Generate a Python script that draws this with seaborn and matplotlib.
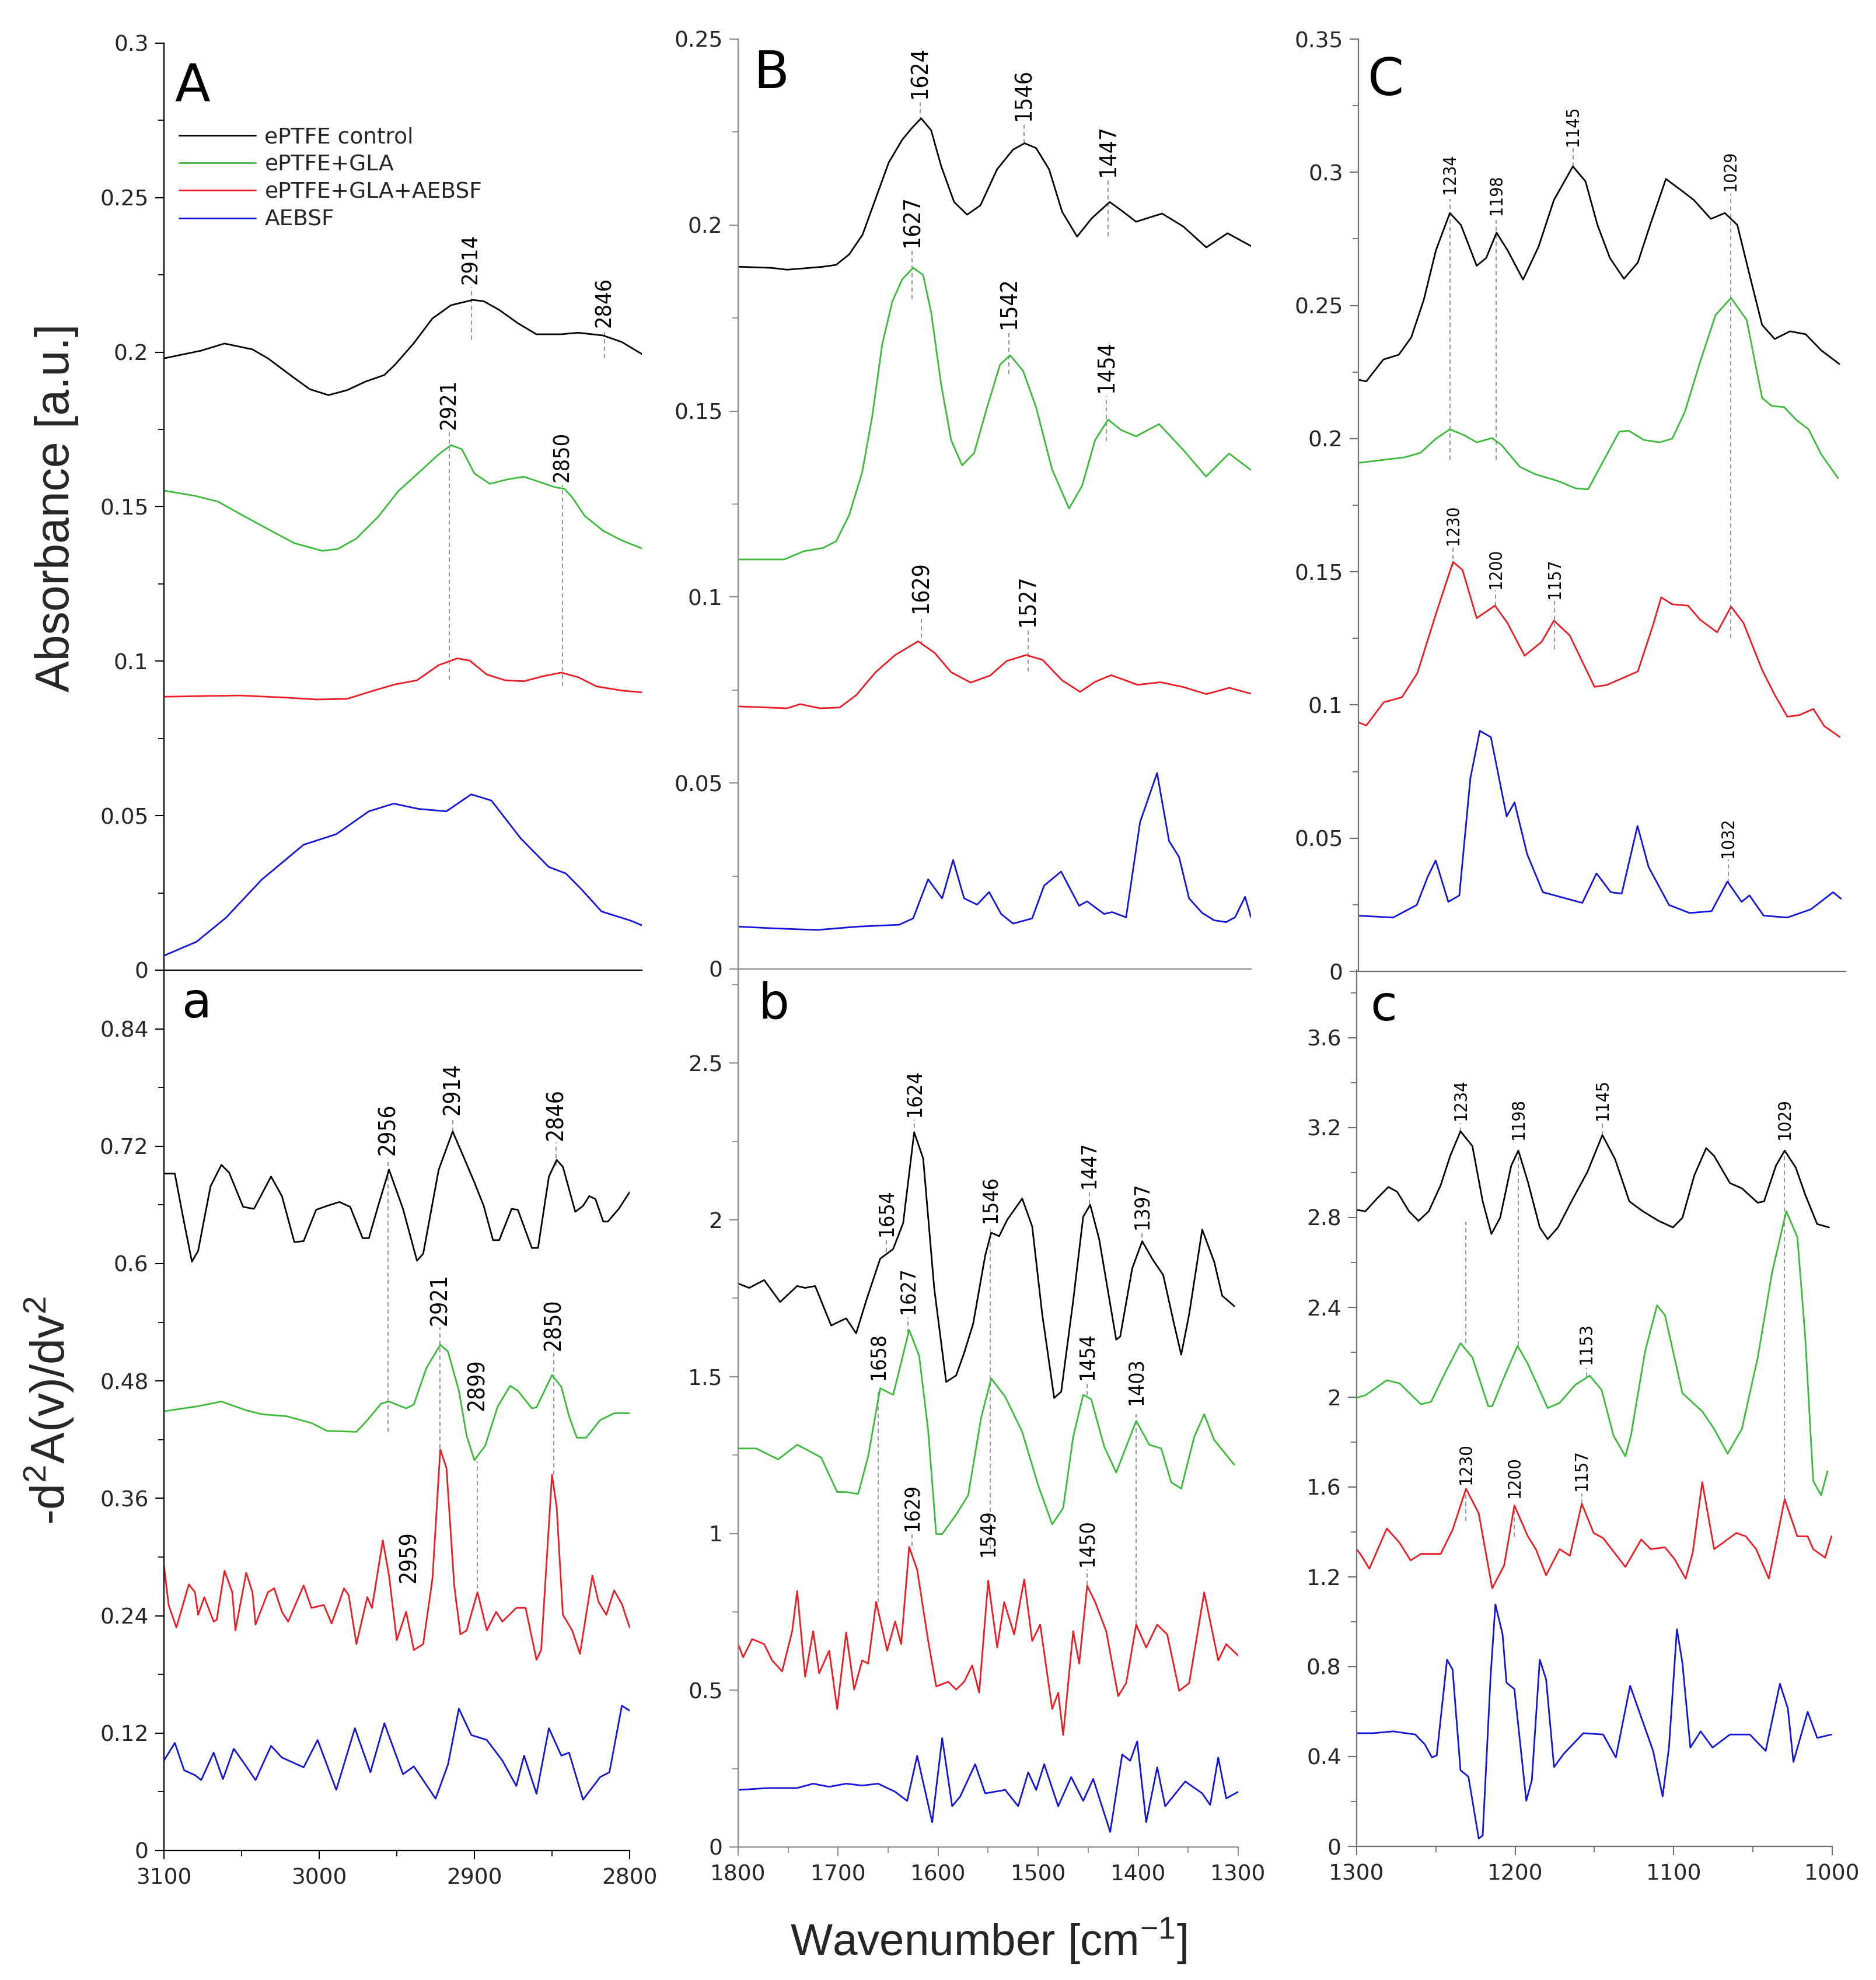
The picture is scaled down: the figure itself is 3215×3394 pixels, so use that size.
import pandas as pd
import numpy as np
import matplotlib
matplotlib.use('Agg')
import matplotlib.pyplot as plt
import seaborn as sns
from matplotlib import font_manager
from matplotlib.ticker import MultipleLocator, FuncFormatter

sns.set_theme(style='ticks')
plt.rcParams['font.family'] = ['DejaVu Sans']

# ---- sample names / colours
samples = ['ePTFE control', 'ePTFE+GLA', 'ePTFE+GLA+AEBSF', 'AEBSF']
colors = {'ePTFE control': '#000000', 'ePTFE+GLA': '#3cba3c',
          'ePTFE+GLA+AEBSF': '#ec1c24', 'AEBSF': '#1414d8'}

# ---- panel A: absorbance 3100-2800
A_ctrl_x = [3100, 3076, 3061, 3043, 3033, 3017, 3006, 2994, 2982, 2970, 2958, 2951, 2939, 2927, 2915, 2901, 2894, 2884, 2872, 2860, 2844, 2833, 2817, 2805, 2792]
A_ctrl_y = [0.198, 0.2005, 0.2028, 0.2009, 0.198, 0.192, 0.188, 0.1861, 0.1877, 0.1905, 0.1926, 0.196, 0.2029, 0.2109, 0.2152, 0.2169, 0.2165, 0.2137, 0.2094, 0.2058, 0.2058, 0.2063, 0.2054, 0.2033, 0.1994]
A_gla_x = [3100, 3080, 3065, 3049, 3031, 3016, 2998, 2988, 2976, 2962, 2949, 2935, 2923, 2915, 2908, 2900, 2890, 2878, 2868, 2858, 2848, 2842, 2837, 2829, 2817, 2805, 2792]
A_gla_y = [0.1552, 0.1535, 0.1516, 0.1471, 0.1422, 0.1382, 0.1357, 0.1363, 0.1397, 0.1467, 0.155, 0.1614, 0.1669, 0.1699, 0.1686, 0.1608, 0.1574, 0.1589, 0.1597, 0.158, 0.1563, 0.1558, 0.1531, 0.1471, 0.1422, 0.1391, 0.1365]
A_red_x = [3100, 3051, 3021, 3002, 2982, 2966, 2951, 2937, 2923, 2911, 2903, 2892, 2880, 2868, 2856, 2844, 2833, 2821, 2805, 2792]
A_red_y = [0.0885, 0.0889, 0.0882, 0.0876, 0.0878, 0.0903, 0.0925, 0.0938, 0.0987, 0.1009, 0.1002, 0.0957, 0.0938, 0.0935, 0.0951, 0.0963, 0.0948, 0.0918, 0.0905, 0.0899]
A_blue_x = [3100, 3079, 3060, 3037, 3010, 2989, 2968, 2952, 2936, 2918, 2902, 2889, 2870, 2852, 2841, 2831, 2818, 2799, 2792]
A_blue_y = [0.0047, 0.0092, 0.017, 0.0293, 0.0406, 0.044, 0.0514, 0.0539, 0.0522, 0.0514, 0.0569, 0.0549, 0.0426, 0.0334, 0.0313, 0.0262, 0.019, 0.016, 0.0145]

# ---- panel B: absorbance 1800-1300
B_ctrl_x = [1800, 1767, 1751, 1715, 1702, 1689, 1675.6, 1662.5, 1649.4, 1636, 1626.5, 1617, 1607, 1597, 1584, 1571, 1557.7, 1541, 1525, 1513.5, 1502, 1489, 1476, 1461, 1446.4, 1428.4, 1417, 1402, 1376, 1354.7, 1331.8, 1310.5, 1286.6]
B_ctrl_y = [0.1888, 0.1885, 0.188, 0.1888, 0.1893, 0.1921, 0.1974, 0.2071, 0.2168, 0.2229, 0.226, 0.2287, 0.2255, 0.2159, 0.2062, 0.2028, 0.2053, 0.215, 0.2203, 0.222, 0.2207, 0.215, 0.2036, 0.1969, 0.2018, 0.2062, 0.204, 0.2009, 0.2031, 0.1996, 0.194, 0.1978, 0.1943]
B_gla_x = [1800, 1754, 1734.5, 1715, 1702, 1689, 1676, 1666, 1656, 1646, 1636, 1625, 1615, 1607, 1597, 1587, 1576, 1564, 1551, 1538, 1528, 1515, 1502, 1486, 1469, 1456, 1443, 1430, 1417, 1402, 1379, 1355, 1332, 1309, 1287]
B_gla_y = [0.1101, 0.1101, 0.1123, 0.1132, 0.115, 0.122, 0.1335, 0.1484, 0.1678, 0.1793, 0.1854, 0.1885, 0.1866, 0.1766, 0.1572, 0.1422, 0.1354, 0.1387, 0.151, 0.1625, 0.165, 0.1608, 0.151, 0.1343, 0.1238, 0.1299, 0.1422, 0.1477, 0.1449, 0.1432, 0.1465, 0.1396, 0.1324, 0.1386, 0.1341]
B_red_x = [1800, 1751, 1738, 1718, 1698.5, 1682, 1662.5, 1643, 1620, 1603.5, 1587, 1567.5, 1548, 1531.5, 1512, 1495.5, 1476, 1458, 1443, 1427, 1400.5, 1377.6, 1354.7, 1331.8, 1308.8, 1287]
B_red_y = [0.0706, 0.0701, 0.0712, 0.0701, 0.0703, 0.0736, 0.0798, 0.0844, 0.0881, 0.085, 0.0798, 0.077, 0.0789, 0.0828, 0.0844, 0.0831, 0.0776, 0.0745, 0.0772, 0.079, 0.0764, 0.0771, 0.0758, 0.0739, 0.0756, 0.074]
B_blue_x = [1800, 1762, 1721, 1680, 1639, 1625, 1610, 1596, 1585, 1574, 1561, 1549, 1537, 1525, 1506, 1494, 1477, 1459, 1451, 1434, 1426, 1412, 1398, 1381, 1369, 1359, 1349, 1336, 1324, 1312, 1303, 1293, 1287]
B_blue_y = [0.0114, 0.0109, 0.0105, 0.0114, 0.0119, 0.0136, 0.0241, 0.0190, 0.0293, 0.0190, 0.0173, 0.0207, 0.0148, 0.0122, 0.0136, 0.0224, 0.0262, 0.0170, 0.0182, 0.0148, 0.0153, 0.0139, 0.0395, 0.0527, 0.0344, 0.0301, 0.0190, 0.0151, 0.0131, 0.0126, 0.0139, 0.0194, 0.0139]

# ---- panel C: absorbance 1300-1000
C_ctrl_x = [1300, 1295, 1284.2, 1274.4, 1266.5, 1258.6, 1250.8, 1242, 1235, 1225, 1219, 1212.4, 1205.5, 1195.6, 1185.8, 1176, 1164, 1156, 1148.4, 1140.5, 1131.6, 1122.8, 1115, 1105, 1095, 1087.3, 1076.5, 1067.6, 1059.7, 1051.9, 1044, 1036, 1026.3, 1016.4, 1006.6, 995]
C_ctrl_y = [0.2221, 0.2215, 0.2297, 0.2315, 0.238, 0.252, 0.2708, 0.2847, 0.2802, 0.2649, 0.2678, 0.2773, 0.2708, 0.2597, 0.272, 0.2896, 0.3022, 0.2966, 0.2802, 0.2678, 0.26, 0.2661, 0.2802, 0.2975, 0.2931, 0.2896, 0.2825, 0.2847, 0.2802, 0.2614, 0.2427, 0.2374, 0.2403, 0.2392, 0.2332, 0.228]
C_gla_x = [1300, 1270.5, 1260.6, 1250.8, 1242, 1233, 1225, 1215.3, 1209.4, 1197.6, 1187.8, 1174, 1162, 1154.3, 1144.4, 1134.6, 1128.7, 1119, 1109, 1101, 1093, 1083.3, 1073.5, 1063.7, 1053.8, 1044, 1038, 1030, 1022.3, 1014.5, 1006.6, 995.8]
C_gla_y = [0.1909, 0.193, 0.1947, 0.2, 0.2035, 0.2013, 0.1986, 0.2002, 0.1977, 0.1894, 0.1866, 0.1842, 0.1813, 0.181, 0.1919, 0.2026, 0.203, 0.1995, 0.1986, 0.2, 0.21, 0.2288, 0.2464, 0.2528, 0.2446, 0.2153, 0.2123, 0.2118, 0.207, 0.2035, 0.1942, 0.1851]
C_red_x = [1300, 1295, 1284, 1272.4, 1262.6, 1250.8, 1240, 1234, 1225, 1213.4, 1205.5, 1194.6, 1183.8, 1176, 1166, 1150.3, 1142.5, 1122.8, 1113, 1108, 1101, 1091, 1083.3, 1072.5, 1063.7, 1055.8, 1044, 1036, 1028, 1020.4, 1011.5, 1004.6, 994.8]
C_red_y = [0.0935, 0.0923, 0.101, 0.1029, 0.112, 0.1343, 0.1537, 0.1507, 0.1326, 0.1373, 0.1308, 0.1185, 0.1237, 0.1317, 0.1261, 0.1068, 0.1075, 0.1126, 0.1303, 0.1404, 0.1378, 0.1373, 0.132, 0.1273, 0.1369, 0.1308, 0.1132, 0.1038, 0.0956, 0.0962, 0.0985, 0.0921, 0.088]
C_blue_x = [1300, 1278, 1263, 1256, 1251, 1243, 1236, 1229, 1223, 1216, 1206, 1201, 1193, 1183, 1158, 1149, 1140, 1133, 1123, 1116, 1103, 1090, 1076, 1066, 1057, 1052, 1043, 1028, 1013, 999, 994]
C_blue_y = [0.0209, 0.0202, 0.0249, 0.0356, 0.0416, 0.0261, 0.0285, 0.0725, 0.0903, 0.0879, 0.0582, 0.0634, 0.044, 0.0297, 0.0257, 0.0368, 0.0297, 0.0292, 0.0546, 0.0392, 0.0249, 0.0219, 0.0226, 0.0337, 0.0261, 0.0285, 0.0209, 0.0202, 0.0233, 0.0297, 0.0273]

# ---- panel a: second derivative 3100-2800
a_ctrl_x = [3100, 3093, 3088, 3082, 3078, 3070, 3063, 3058, 3049, 3042, 3031, 3024, 3016, 3010, 3002, 2995, 2987, 2980, 2972, 2968, 2962, 2955, 2946, 2937, 2933, 2923, 2914, 2908, 2900, 2894, 2888, 2884, 2876, 2872, 2863, 2859, 2852, 2847, 2843, 2835, 2830, 2826, 2822, 2817, 2814, 2807, 2800]
a_ctrl_y = [0.692, 0.692, 0.650, 0.602, 0.613, 0.679, 0.701, 0.693, 0.658, 0.656, 0.689, 0.669, 0.622, 0.623, 0.655, 0.659, 0.663, 0.658, 0.626, 0.626, 0.659, 0.696, 0.656, 0.603, 0.610, 0.696, 0.735, 0.713, 0.683, 0.659, 0.624, 0.624, 0.656, 0.655, 0.616, 0.616, 0.689, 0.706, 0.699, 0.653, 0.659, 0.669, 0.666, 0.643, 0.643, 0.656, 0.673]
a_gla_x = [3100, 3079, 3063, 3047, 3037, 3021, 3005, 2995, 2976, 2969, 2960, 2955, 2944, 2939, 2931, 2922, 2917, 2910, 2905, 2900, 2893, 2885, 2877, 2872, 2863, 2860, 2850, 2844, 2839, 2834, 2828, 2819, 2810, 2800]
a_gla_y = [0.449, 0.454, 0.459, 0.450, 0.446, 0.444, 0.437, 0.429, 0.428, 0.440, 0.457, 0.459, 0.452, 0.456, 0.493, 0.517, 0.510, 0.470, 0.424, 0.399, 0.414, 0.454, 0.475, 0.470, 0.452, 0.453, 0.486, 0.474, 0.444, 0.422, 0.422, 0.440, 0.447, 0.447]
a_red_x = [3100, 3097, 3092, 3084, 3080, 3078, 3074, 3068, 3066, 3061, 3056, 3054, 3047, 3043, 3041, 3033, 3029, 3024, 3020, 3010, 3005, 2997, 2992, 2984, 2981, 2976, 2969, 2966, 2959, 2955, 2950, 2944, 2939, 2933, 2927, 2922, 2918, 2913, 2909, 2905, 2898, 2892, 2886, 2882, 2873, 2867, 2860, 2857, 2850, 2847, 2843, 2837, 2832, 2824, 2820, 2815, 2810, 2805, 2800]
a_red_y = [0.291, 0.251, 0.228, 0.272, 0.264, 0.241, 0.259, 0.234, 0.236, 0.286, 0.264, 0.225, 0.284, 0.264, 0.231, 0.264, 0.268, 0.244, 0.234, 0.271, 0.248, 0.251, 0.232, 0.268, 0.261, 0.211, 0.259, 0.248, 0.317, 0.281, 0.215, 0.244, 0.205, 0.211, 0.278, 0.410, 0.391, 0.271, 0.221, 0.225, 0.264, 0.225, 0.244, 0.234, 0.248, 0.248, 0.195, 0.205, 0.384, 0.351, 0.241, 0.225, 0.201, 0.281, 0.254, 0.241, 0.266, 0.252, 0.228]
a_blue_x = [3100, 3093, 3087, 3080, 3076, 3068, 3062, 3055, 3047, 3041, 3031, 3024, 3010, 3001, 2989, 2977, 2967, 2958, 2946, 2939, 2925, 2917, 2910, 2902, 2892, 2882, 2873, 2868, 2860, 2852, 2844, 2839, 2830, 2819, 2813, 2805, 2800]
a_blue_y = [0.092, 0.110, 0.082, 0.077, 0.072, 0.100, 0.073, 0.104, 0.086, 0.072, 0.107, 0.095, 0.085, 0.113, 0.062, 0.125, 0.080, 0.130, 0.078, 0.086, 0.053, 0.088, 0.145, 0.118, 0.113, 0.092, 0.066, 0.097, 0.058, 0.125, 0.097, 0.100, 0.052, 0.075, 0.080, 0.148, 0.143]

# ---- panel b: second derivative 1800-1300
b_ctrl_x = [1800, 1789, 1774, 1758, 1741, 1733, 1723, 1707, 1696, 1692, 1682, 1672, 1658, 1645, 1635, 1624, 1615, 1604, 1592, 1582, 1574, 1565, 1553, 1547, 1539, 1531, 1516, 1506, 1496, 1484, 1477, 1465, 1455, 1448, 1439, 1422, 1418, 1406, 1396, 1386, 1375, 1365, 1357, 1349, 1336, 1324, 1316, 1304]
b_ctrl_y = [1.797, 1.783, 1.808, 1.738, 1.789, 1.783, 1.789, 1.663, 1.680, 1.686, 1.638, 1.742, 1.876, 1.907, 1.990, 2.279, 2.196, 1.783, 1.483, 1.504, 1.576, 1.669, 1.886, 1.959, 1.948, 2.000, 2.068, 1.979, 1.700, 1.432, 1.452, 1.742, 2.010, 2.048, 1.938, 1.618, 1.628, 1.845, 1.932, 1.876, 1.824, 1.680, 1.570, 1.700, 1.969, 1.866, 1.758, 1.725]
b_gla_x = [1800, 1782, 1760, 1741, 1725, 1717, 1701, 1692, 1680, 1670, 1658, 1645, 1629, 1619, 1610, 1602, 1596, 1582, 1570, 1557, 1547, 1533, 1516, 1500, 1486, 1475, 1465, 1455, 1447, 1434, 1422, 1412, 1402, 1389, 1377, 1367, 1357, 1344, 1334, 1324, 1304]
b_gla_y = [1.271, 1.271, 1.236, 1.283, 1.256, 1.242, 1.132, 1.132, 1.126, 1.246, 1.463, 1.442, 1.649, 1.566, 1.328, 0.998, 0.998, 1.060, 1.122, 1.370, 1.494, 1.436, 1.324, 1.153, 1.029, 1.081, 1.308, 1.442, 1.428, 1.277, 1.194, 1.277, 1.359, 1.283, 1.271, 1.163, 1.143, 1.308, 1.380, 1.298, 1.219]
b_red_x = [1800, 1795, 1786, 1774, 1766, 1756, 1746, 1741, 1733, 1725, 1719, 1709, 1701, 1692, 1684, 1676, 1670, 1662, 1651, 1643, 1637, 1629, 1621, 1610, 1602, 1590, 1582, 1574, 1566, 1559, 1550, 1541, 1534, 1524, 1514, 1506, 1498, 1486, 1480, 1475, 1465, 1459, 1451, 1443, 1432, 1420, 1412, 1402, 1392, 1381, 1371, 1359, 1349, 1334, 1320, 1312, 1300]
b_red_y = [0.647, 0.605, 0.663, 0.647, 0.595, 0.560, 0.688, 0.816, 0.543, 0.688, 0.554, 0.626, 0.440, 0.684, 0.502, 0.595, 0.585, 0.781, 0.626, 0.719, 0.647, 0.957, 0.884, 0.657, 0.512, 0.527, 0.502, 0.527, 0.579, 0.492, 0.849, 0.636, 0.781, 0.678, 0.853, 0.657, 0.709, 0.440, 0.492, 0.357, 0.688, 0.585, 0.833, 0.781, 0.688, 0.481, 0.523, 0.709, 0.636, 0.709, 0.678, 0.498, 0.523, 0.812, 0.595, 0.647, 0.610]
b_blue_x = [1800, 1770, 1741, 1725, 1709, 1692, 1676, 1660, 1643, 1631, 1621, 1606, 1596, 1586, 1578, 1563, 1553, 1533, 1520, 1510, 1502, 1494, 1480, 1467, 1455, 1445, 1428, 1416, 1408, 1401, 1392, 1381, 1373, 1353, 1336, 1328, 1320, 1312, 1300]
b_blue_y = [0.182, 0.188, 0.188, 0.202, 0.192, 0.202, 0.196, 0.202, 0.176, 0.147, 0.291, 0.079, 0.347, 0.130, 0.161, 0.264, 0.171, 0.182, 0.130, 0.238, 0.182, 0.264, 0.130, 0.223, 0.147, 0.217, 0.048, 0.295, 0.275, 0.337, 0.079, 0.254, 0.130, 0.209, 0.171, 0.134, 0.285, 0.155, 0.176]

# ---- panel c: second derivative 1300-1000
c_ctrl_x = [1300, 1294.5, 1287, 1280, 1274.5, 1267, 1261, 1254.5, 1247, 1241, 1234.5, 1227, 1220.5, 1215, 1209.5, 1202.5, 1198, 1192, 1184.5, 1179.5, 1173, 1164.5, 1154.5, 1145, 1137, 1128, 1119.5, 1109.5, 1100.5, 1094.5, 1087, 1079.5, 1074.5, 1064.5, 1057, 1047, 1043, 1035.5, 1030, 1023, 1017, 1009.5, 1002]
c_ctrl_y = [2.833, 2.827, 2.885, 2.935, 2.914, 2.827, 2.784, 2.827, 2.943, 3.073, 3.183, 3.117, 2.871, 2.726, 2.798, 3.030, 3.097, 2.958, 2.755, 2.703, 2.755, 2.871, 3.001, 3.166, 3.059, 2.871, 2.827, 2.784, 2.755, 2.798, 2.987, 3.108, 3.073, 2.952, 2.929, 2.865, 2.871, 3.030, 3.097, 3.021, 2.900, 2.770, 2.755]
c_gla_x = [1300, 1294.5, 1281, 1273, 1259.5, 1253, 1244.5, 1234.5, 1227, 1217, 1214.5, 1207, 1198.5, 1192, 1179.5, 1172, 1162, 1153, 1145.5, 1138, 1130.5, 1127, 1118, 1110.5, 1105.5, 1094.5, 1082, 1074.5, 1066, 1057, 1047, 1038, 1029, 1022, 1017, 1012, 1007, 1003]
c_gla_y = [1.997, 2.008, 2.075, 2.061, 1.968, 1.979, 2.104, 2.240, 2.176, 1.959, 1.959, 2.089, 2.228, 2.147, 1.951, 1.974, 2.055, 2.095, 2.032, 1.829, 1.736, 1.829, 2.205, 2.408, 2.364, 2.017, 1.936, 1.858, 1.748, 1.858, 2.176, 2.553, 2.827, 2.712, 2.263, 1.626, 1.563, 1.670]
c_red_x = [1300, 1297, 1292, 1281, 1273, 1266, 1259.5, 1247, 1239.5, 1231, 1223, 1214.5, 1207, 1200.5, 1192, 1187, 1180.5, 1172, 1165.5, 1158, 1150.5, 1144.5, 1130.5, 1120.5, 1114.5, 1105.5, 1099.5, 1092.5, 1088, 1082, 1074.5, 1060.5, 1054.5, 1048, 1040, 1030, 1022, 1015.5, 1012, 1004.5, 1000.5]
c_red_y = [1.323, 1.294, 1.236, 1.415, 1.352, 1.273, 1.302, 1.302, 1.409, 1.592, 1.482, 1.149, 1.250, 1.517, 1.380, 1.323, 1.207, 1.323, 1.294, 1.525, 1.395, 1.372, 1.244, 1.366, 1.323, 1.331, 1.279, 1.192, 1.308, 1.621, 1.323, 1.395, 1.380, 1.323, 1.192, 1.545, 1.380, 1.380, 1.323, 1.285, 1.380]
c_blue_x = [1300, 1289.5, 1277, 1263, 1257, 1252.5, 1249.5, 1243, 1239.5, 1234.5, 1229.5, 1223, 1220.5, 1215.5, 1212.5, 1208, 1205.5, 1200.5, 1193, 1189.5, 1184.5, 1180.5, 1175.5, 1169.5, 1157, 1144.5, 1136.5, 1127.5, 1121, 1113, 1107, 1103, 1098, 1094.5, 1089.5, 1083, 1075.5, 1064.5, 1052, 1042, 1033, 1028, 1024.5, 1015.5, 1009.5, 1000.5]
c_blue_y = [0.504, 0.504, 0.512, 0.498, 0.454, 0.396, 0.405, 0.831, 0.787, 0.339, 0.310, 0.035, 0.049, 0.758, 1.077, 0.946, 0.729, 0.700, 0.203, 0.295, 0.831, 0.744, 0.353, 0.411, 0.504, 0.498, 0.396, 0.715, 0.585, 0.425, 0.223, 0.440, 0.967, 0.816, 0.440, 0.512, 0.440, 0.498, 0.498, 0.425, 0.724, 0.614, 0.376, 0.599, 0.483, 0.498]

# ---- peak marks: (label, x, dash from, dash to, label y)
A_marks = [('2914', 2902, 0.204, 0.221, 0.222), ('2846', 2816, 0.198, 0.207, 0.208),
           ('2921', 2916, 0.094, 0.174, 0.175), ('2850', 2843, 0.092, 0.157, 0.158)]
B_marks = [('1624', 1618, 0.228, 0.233, 0.234), ('1546', 1514, 0.222, 0.227, 0.228),
           ('1447', 1430, 0.197, 0.212, 0.213), ('1627', 1626, 0.180, 0.193, 0.194),
           ('1542', 1529, 0.160, 0.171, 0.172), ('1454', 1432, 0.142, 0.154, 0.155),
           ('1629', 1617, 0.087, 0.095, 0.0956), ('1527', 1510, 0.080, 0.091, 0.092)]
C_marks = [('1234', 1242, 0.192, 0.290, 0.292), ('1198', 1212.5, 0.192, 0.282, 0.284),
           ('1145', 1164, 0.302, 0.309, 0.310), ('1029', 1064, 0.125, 0.292, 0.293),
           ('1230', 1240, 0.152, 0.159, 0.160), ('1200', 1213, 0.137, 0.143, 0.1437),
           ('1157', 1175.5, 0.121, 0.139, 0.140), ('1032', 1065.5, 0.033, 0.042, 0.0428)]
a_marks = [('2956', 2955.5, 0.428, 0.708, 0.711), ('2914', 2914, 0.735, 0.750, 0.752),
           ('2846', 2847.5, 0.700, 0.724, 0.726), ('2921', 2922, 0.404, 0.535, 0.537),
           ('2899', 2898, 0.268, 0.398, 0.450), ('2850', 2849, 0.384, 0.510, 0.511),
           ('2959', 2942, None, None, 0.274)]
b_marks = [('1624', 1624, 2.27, 2.32, 2.33), ('1654', 1652, 1.897, 1.94, 1.948),
           ('1546', 1548, 0.95, 1.97, 1.99), ('1447', 1449, 2.05, 2.09, 2.10),
           ('1397', 1396, 1.92, 1.96, 1.97), ('1658', 1660, 0.78, 1.46, 1.49),
           ('1627', 1630, 1.64, 1.69, 1.70), ('1454', 1451, 1.44, 1.48, 1.49),
           ('1403', 1402, 0.71, 1.38, 1.41), ('1629', 1626, 0.96, 1.0, 1.008),
           ('1549', 1550, None, None, 0.926), ('1450', 1451, 0.835, 0.885, 0.895)]
c_marks = [('1234', 1234.5, 3.18, 3.22, 3.233), ('1198', 1198, 2.23, 3.10, 3.146),
           ('1145', 1145, 3.166, 3.22, 3.233), ('1029', 1030, 1.545, 3.10, 3.146),
           ('1153', 1155, 2.09, 2.13, 2.147), ('1230', 1231, 1.45, 1.59, 1.612),
           ('1200', 1200.5, 1.38, 1.52, 1.554), ('1157', 1158, 1.525, 1.57, 1.583),
           ('', 1231, 2.24, 2.78, None)]

# narrow font for the peak labels
installed = {f.name for f in font_manager.fontManager.ttflist}
if 'Liberation Sans Narrow' in installed:
    peak_font = {'family': 'Liberation Sans Narrow'}
    peak_scale = 1.0
else:
    fp = font_manager.findfont(font_manager.FontProperties(family='DejaVu Sans', stretch='condensed'))
    if 'Condensed' in fp:
        peak_font = {'family': 'DejaVu Sans', 'stretch': 'condensed'}
        peak_scale = 0.456 / 0.572
    else:
        peak_font = {'family': 'DejaVu Sans'}
        peak_scale = 0.456 / 0.636

W, H = 3216, 3394
fig = plt.figure(figsize=(W / 100, H / 100), dpi=100)


def make_ax(left, top, right, bottom):
    return fig.add_axes([left / W, 1 - bottom / H, (right - left) / W, (bottom - top) / H])


def draw(ax, curves, marks, size):
    frames = []
    for name, xs, ys in curves:
        frames.append(pd.DataFrame({'wn': xs, 'val': ys, 'sample': name}))
    df = pd.concat(frames, ignore_index=True)
    sns.lineplot(data=df, x='wn', y='val', hue='sample', hue_order=samples, palette=colors,
                 estimator=None, sort=False, lw=2.0, legend=False, ax=ax)
    for line in ax.get_lines():
        line.set_solid_joinstyle('round')
    for txt, x, y0, y1, ylab in marks:
        if y0 is not None:
            ax.plot([x, x], [y0, y1], color='#8a8a8a', lw=1.3, ls=(0, (4, 3)), zorder=1)
        if txt and ylab is not None:
            ax.text(x, ylab, txt, rotation=90, ha='center', va='bottom',
                    fontsize=size * peak_scale, color='black', **peak_font)


def style(ax, xlim, ylim, ymaj, ymin, top, spine_col, letter, lx, ly, lsize):
    ax.set_xlim(*xlim)
    ax.set_ylim(*ylim)
    ax.set_xlabel('')
    ax.set_ylabel('')
    sns.despine(ax=ax)
    for s in ['left', 'bottom']:
        ax.spines[s].set_color(spine_col)
        ax.spines[s].set_linewidth(1.6)
    ax.yaxis.set_major_locator(MultipleLocator(ymaj))
    ax.yaxis.set_minor_locator(MultipleLocator(ymin))
    ax.yaxis.set_major_formatter(FuncFormatter(lambda v, p: f'{v:g}'))
    ax.tick_params(axis='y', which='major', direction='out', length=11, width=1.5,
                   color=spine_col, labelsize=27, pad=8)
    ax.tick_params(axis='y', which='minor', direction='out', length=7, width=1.3, color=spine_col)
    if top:
        ax.tick_params(axis='x', which='both', bottom=False, labelbottom=False)
    else:
        ax.xaxis.set_major_locator(MultipleLocator(100))
        ax.xaxis.set_minor_locator(MultipleLocator(50))
        ax.xaxis.set_major_formatter(FuncFormatter(lambda v, p: f'{v:g}'))
        ax.tick_params(axis='x', which='major', direction='out', length=11, width=1.5,
                       color=spine_col, labelsize=27, pad=10)
        ax.tick_params(axis='x', which='minor', direction='out', length=7, width=1.3, color=spine_col)
    ax.patch.set_alpha(0)
    ax.text(lx, ly, letter, transform=ax.transAxes, ha='left', va='baseline',
            fontsize=lsize, color='black')


# top row
axA = make_ax(281, 74, 1100, 1663)
draw(axA, [(samples[0], A_ctrl_x, A_ctrl_y), (samples[1], A_gla_x, A_gla_y),
           (samples[2], A_red_x, A_red_y), (samples[3], A_blue_x, A_blue_y)], A_marks, 34)
style(axA, (3100, 2792), (0, 0.3), 0.05, 0.025, True, '#000000', 'A', 0.022, 0.937, 64)

axB = make_ax(1265, 67, 2144, 1661)
draw(axB, [(samples[0], B_ctrl_x, B_ctrl_y), (samples[1], B_gla_x, B_gla_y),
           (samples[2], B_red_x, B_red_y), (samples[3], B_blue_x, B_blue_y)], B_marks, 35)
style(axB, (1800, 1287), (0, 0.25), 0.05, 0.025, True, '#8c8c8c', 'B', 0.030, 0.947, 64)

axC = make_ax(2328, 67, 3163, 1665)
draw(axC, [(samples[0], C_ctrl_x, C_ctrl_y), (samples[1], C_gla_x, C_gla_y),
           (samples[2], C_red_x, C_red_y), (samples[3], C_blue_x, C_blue_y)], C_marks, 27)
style(axC, (1300, 991), (0, 0.35), 0.05, 0.025, True, '#6e6e6e', 'C', 0.019, 0.940, 64)

# bottom row
axa = make_ax(281, 1663, 1079, 3172)
draw(axa, [(samples[0], a_ctrl_x, a_ctrl_y), (samples[1], a_gla_x, a_gla_y),
           (samples[2], a_red_x, a_red_y), (samples[3], a_blue_x, a_blue_y)], a_marks, 35)
style(axa, (3100, 2800), (0, 0.9), 0.12, 0.06, False, '#000000', 'a', 0.039, 0.946, 60)

axb = make_ax(1265, 1661, 2122, 3166)
draw(axb, [(samples[0], b_ctrl_x, b_ctrl_y), (samples[1], b_gla_x, b_gla_y),
           (samples[2], b_red_x, b_red_y), (samples[3], b_blue_x, b_blue_y)], b_marks, 32)
style(axb, (1800, 1300), (0, 2.8), 0.5, 0.25, False, '#8c8c8c', 'b', 0.040, 0.944, 60)

axc = make_ax(2325, 1663, 3140, 3165)
draw(axc, [(samples[0], c_ctrl_x, c_ctrl_y), (samples[1], c_gla_x, c_gla_y),
           (samples[2], c_red_x, c_red_y), (samples[3], c_blue_x, c_blue_y)], c_marks, 28)
style(axc, (1300, 1000), (0, 3.9), 0.4, 0.2, False, '#6e6e6e', 'c', 0.029, 0.943, 60)

# legend in panel A
handles = axA.get_lines()[:4]
axA.legend(handles, samples, loc='upper left', bbox_to_anchor=(0.032, 0.91), frameon=False,
           handlelength=3.5, handletextpad=0.4, labelspacing=0.3, borderpad=0,
           borderaxespad=0, fontsize=27)

# shared axis titles
fig.text(97 / W, 1 - 870 / H, 'Absorbance [a.u.]', rotation=90, ha='center', va='center',
         fontsize=58, family=['Liberation Sans', 'DejaVu Sans'])
fig.text(84 / W, 1 - 2418 / H, r'-d$\mathregular{^{2}}$A(v)/dv$\mathregular{^{2}}$', rotation=90,
         ha='center', va='center', fontsize=58, family=['Liberation Sans', 'DejaVu Sans'])
fig.text(1694 / W, 1 - 3327 / H, r'Wavenumber [cm$\mathregular{^{-1}}$]', ha='center', va='center',
         fontsize=55, family=['Liberation Sans', 'DejaVu Sans'])

fig.savefig('out.png', dpi=100, facecolor='white')
